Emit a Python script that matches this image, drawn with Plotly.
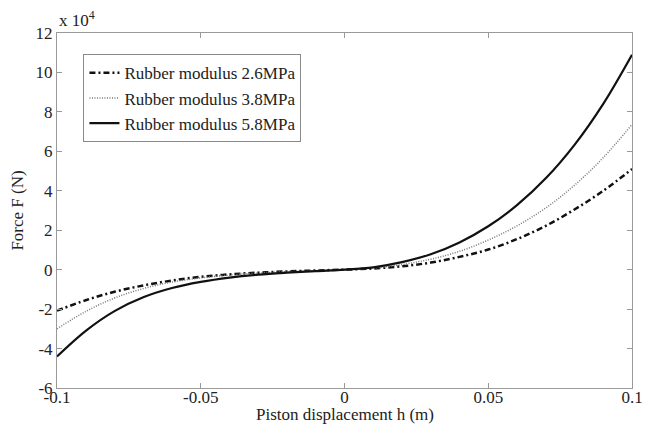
import plotly.graph_objects as go

h = [-0.10, -0.09, -0.08, -0.07, -0.06, -0.05, -0.04, -0.03, -0.02, -0.01, 0.0,
     0.01, 0.02, 0.03, 0.04, 0.05, 0.06, 0.07, 0.08, 0.09, 0.10]

# Force in units of 1e4 N
f_26 = [-2.08, -1.55, -1.12, -0.80, -0.55, -0.36, -0.24, -0.15, -0.09, -0.04, 0.0,
        0.06, 0.17, 0.36, 0.65, 1.02, 1.55, 2.22, 3.05, 4.00, 5.10]
f_38 = [-3.00, -2.12, -1.44, -0.96, -0.63, -0.42, -0.27, -0.17, -0.10, -0.05, 0.0,
        0.08, 0.26, 0.53, 0.93, 1.50, 2.22, 3.13, 4.28, 5.68, 7.36]
f_58 = [-4.40, -3.10, -2.10, -1.40, -0.93, -0.62, -0.40, -0.25, -0.15, -0.07, 0.0,
        0.12, 0.38, 0.78, 1.38, 2.20, 3.27, 4.63, 6.33, 8.41, 10.90]

names = ["Rubber modulus 2.6MPa", "Rubber modulus 3.8MPa", "Rubber modulus 5.8MPa"]

x_ticks = [-0.1, -0.05, 0, 0.05, 0.1]
x_tick_text = ["-0.1", "-0.05", "0", "0.05", "0.1"]
y_ticks = [-6, -4, -2, 0, 2, 4, 6, 8, 10, 12]
y_tick_text = ["-6", "-4", "-2", "0", "2", "4", "6", "8", "10", "12"]

FONT = "Liberation Serif"
TXT = "#222222"

fig = go.Figure()
fig.add_trace(go.Scatter(x=h, y=f_26, mode="lines", name=names[0],
                         line=dict(color="#111111", width=2.5, dash="6px,3px,2px,3px", shape="spline")))
fig.add_trace(go.Scatter(x=h, y=f_38, mode="lines", name=names[1],
                         line=dict(color="#777777", width=1.5, dash="1px,1.5px", shape="spline")))
fig.add_trace(go.Scatter(x=h, y=f_58, mode="lines", name=names[2],
                         line=dict(color="#111111", width=2.2, shape="spline")))

axis_common = dict(showline=True, linecolor="#9a9a9a", linewidth=1, mirror="ticks",
                   ticks="inside", ticklen=5, tickcolor="#9a9a9a", showgrid=False,
                   zeroline=False, automargin=False,
                   tickfont=dict(family=FONT, size=17, color=TXT))

fig.update_xaxes(range=[-0.1, 0.1], tickvals=x_ticks, ticktext=x_tick_text,
                 ticklabelstandoff=-6, **axis_common)
fig.update_yaxes(range=[-6, 12], tickvals=y_ticks, ticktext=y_tick_text,
                 title=dict(text="Force F (N)", font=dict(family=FONT, size=17, color=TXT),
                            standoff=10),
                 **axis_common)

fig.add_annotation(text="Piston displacement h (m)", xref="paper", yref="paper", x=0.5, y=0.0,
                   xanchor="center", yanchor="top", showarrow=False, yshift=-15,
                   font=dict(family=FONT, size=17, color=TXT))

fig.add_annotation(text="x 10<sup>4</sup>", xref="paper", yref="paper", x=0.0, y=1.0,
                   xanchor="left", yanchor="bottom", showarrow=False,
                   font=dict(family=FONT, size=17, color=TXT), yshift=1)

fig.update_layout(
    width=649, height=426,
    margin=dict(l=49, r=25, t=25, b=46),
    paper_bgcolor="white", plot_bgcolor="white",
    showlegend=True,
    legend=dict(x=0.046, y=0.94, xanchor="left", yanchor="top",
                bgcolor="white", bordercolor="#8a8a8a", borderwidth=1,
                font=dict(family=FONT, size=17, color=TXT),
                tracegroupgap=0, itemwidth=30),
)

fig.write_html("out.html")
